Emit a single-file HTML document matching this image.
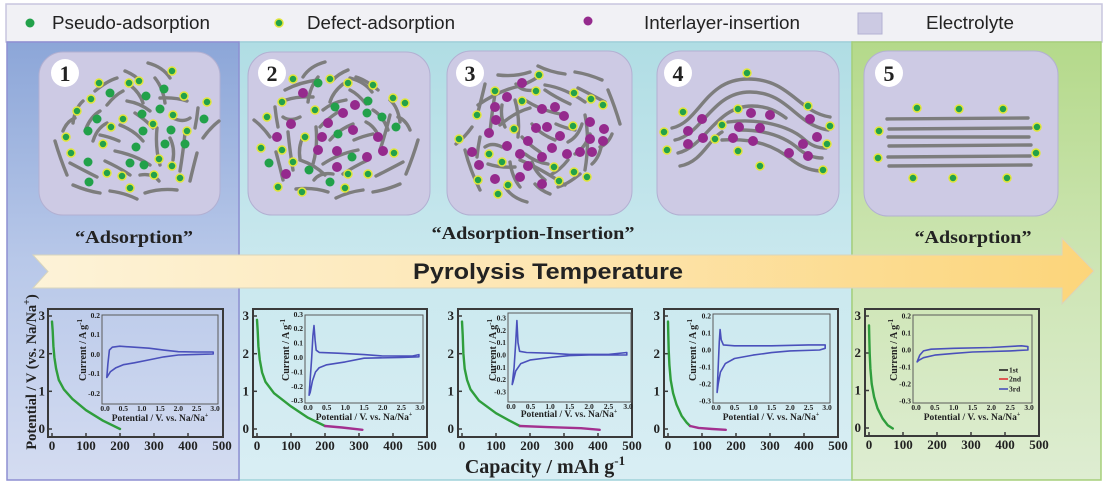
<!DOCTYPE html>
<html><head><meta charset="utf-8"><style>
html,body{margin:0;padding:0;background:#fff;}
svg{display:block;}
.g{fill:#22a14a;}
.d{fill:#22a14a;stroke:#e2e63a;stroke-width:1.5;}
.m{fill:#952a8d;}
.cv path,.cv line{stroke:#7d7d7d;stroke-width:3.4;fill:none;stroke-linecap:round;}
.sf{font-family:"Liberation Serif",serif;font-weight:bold;fill:#222;}
.ss{font-family:"Liberation Sans",sans-serif;fill:#222;}
.ax{fill:none;stroke:#3a3a3a;stroke-width:2;}
.tk{stroke:#3a3a3a;stroke-width:1.5;}
.ib{fill:none;stroke:#5a5a5a;stroke-width:1;}
.cvl{fill:none;stroke:#4a50bb;stroke-width:1.6;stroke-linejoin:round;}
.gl{fill:none;stroke:#2f9e3c;stroke-width:2.4;stroke-linejoin:round;stroke-linecap:round;}
.ml{fill:none;stroke:#a3308f;stroke-width:2.4;stroke-linejoin:round;stroke-linecap:round;}
</style></head><body>
<svg width="1106" height="485" viewBox="0 0 1106 485" xmlns="http://www.w3.org/2000/svg">
<defs>
<linearGradient id="gL" x1="0" y1="0" x2="0" y2="1"><stop offset="0" stop-color="#8ca6d8"/><stop offset="0.5" stop-color="#b8c8e9"/><stop offset="1" stop-color="#d4dcf1"/></linearGradient>
<linearGradient id="gM" x1="0" y1="0" x2="0" y2="1"><stop offset="0" stop-color="#b0dde4"/><stop offset="0.5" stop-color="#c9e8ee"/><stop offset="1" stop-color="#d9eef4"/></linearGradient>
<linearGradient id="gR" x1="0" y1="0" x2="0" y2="1"><stop offset="0" stop-color="#b4d98a"/><stop offset="0.5" stop-color="#cde5b3"/><stop offset="1" stop-color="#deedd2"/></linearGradient>
<linearGradient id="gA" x1="0" y1="0" x2="1" y2="0"><stop offset="0" stop-color="#fdf3d8"/><stop offset="0.5" stop-color="#fde5b0"/><stop offset="1" stop-color="#fcd57a"/></linearGradient>
<g id="pat" class="cv">
<path d="M13 -70 Q28 -66 35 -55"/>
<path d="M-40 -42 Q-28 -52 -18 -55"/>
<path d="M-28 -28 Q-20 -38 -12 -42"/>
<path d="M-5 -48 Q5 -40 8 -30"/>
<path d="M20 -55 Q28 -45 30 -30"/>
<path d="M25 -35 Q40 -36 52 -32"/>
<path d="M-62 -10 Q-60 -25 -52 -32"/>
<path d="M-50 -2 Q-45 -16 -35 -22"/>
<path d="M-42 8 Q-38 -5 -28 -10"/>
<path d="M-35 2 Q-25 4 -16 8"/>
<path d="M-15 -8 Q0 -2 8 8"/>
<path d="M-20 18 Q0 22 15 32"/>
<path d="M-80 8 Q-75 25 -68 42"/>
<path d="M-65 30 Q-50 38 -38 44"/>
<path d="M-62 52 Q-48 58 -35 60"/>
<path d="M-25 58 Q-10 60 2 66"/>
<path d="M10 60 Q25 55 42 57"/>
<path d="M22 -5 Q20 15 25 32"/>
<path d="M50 0 Q48 20 45 38"/>
<path d="M62 20 Q58 35 55 48"/>
<path d="M63 -25 Q62 -15 60 -5"/>
<path d="M68 5 Q75 -5 84 -12"/>
<path d="M0 -20 Q12 -12 18 -5"/>
<path d="M-8 -32 Q5 -30 15 -22"/>
<path d="M-30 28 Q-15 35 -5 42"/>
<path d="M5 42 Q18 40 24 48"/>
<path d="M35 5 Q40 15 38 27"/>
<path d="M-72 -2 Q-68 -12 -60 -15"/>
<path d="M-10 -62 Q0 -58 5 -52"/>
<path d="M38 -15 Q48 -10 55 -15"/>
</g>
</defs>

<!-- legend bar -->
<rect x="6" y="4" width="1096" height="38" fill="#f1f1f5" stroke="#c8c6df" stroke-width="1.5"/>
<circle cx="30" cy="23" r="4.5" class="g"/>
<text x="52" y="29" class="ss" font-size="18" textLength="158" lengthAdjust="spacingAndGlyphs">Pseudo-adsorption</text>
<circle cx="279" cy="23" r="4" class="d"/>
<text x="307" y="29" class="ss" font-size="18" textLength="148" lengthAdjust="spacingAndGlyphs">Defect-adsorption</text>
<circle cx="588" cy="21" r="4.5" class="m"/>
<text x="644" y="29" class="ss" font-size="18" textLength="156" lengthAdjust="spacingAndGlyphs">Interlayer-insertion</text>
<rect x="858" y="13" width="24" height="21" fill="#cccae3" stroke="#b3b1d3"/>
<text x="926" y="29" class="ss" font-size="18" textLength="88" lengthAdjust="spacingAndGlyphs">Electrolyte</text>

<!-- columns -->
<rect x="239" y="42" width="613" height="438" fill="url(#gM)" stroke="#9fd2da" stroke-width="1.5"/>
<rect x="852" y="42" width="249" height="438" fill="url(#gR)" stroke="#a6cf7a" stroke-width="1.5"/>
<rect x="7" y="42" width="232" height="438" fill="url(#gL)" stroke="#8e8fd2" stroke-width="1.5"/>

<!-- scheme boxes -->
<rect x="39" y="52" width="181" height="163" rx="24" fill="#cdcae4" stroke="#b2b0d2"/>
<rect x="248" y="52" width="182" height="163" rx="24" fill="#cdcae4" stroke="#b2b0d2"/>
<rect x="447" y="51" width="185" height="164" rx="24" fill="#cdcae4" stroke="#b2b0d2"/>
<rect x="657" y="51" width="182" height="164" rx="24" fill="#cdcae4" stroke="#b2b0d2"/>
<rect x="864" y="51" width="194" height="165" rx="24" fill="#cdcae4" stroke="#b2b0d2"/>

<!-- scheme 1 -->
<use href="#pat" transform="translate(135,133)"/>
<g>
<circle class="d" cx="99" cy="83" r="4"/><circle class="d" cx="129" cy="83" r="4"/><circle class="d" cx="139" cy="81" r="4"/><circle class="d" cx="172" cy="71" r="4"/><circle class="d" cx="91" cy="99" r="4"/><circle class="d" cx="184" cy="96" r="4"/><circle class="d" cx="207" cy="102" r="4"/><circle class="d" cx="77" cy="111" r="4"/><circle class="d" cx="123" cy="119" r="4"/><circle class="d" cx="153" cy="124" r="4"/><circle class="d" cx="173" cy="115" r="4"/><circle class="d" cx="187" cy="131" r="4"/><circle class="d" cx="111" cy="127" r="4"/><circle class="d" cx="66" cy="137" r="4"/><circle class="d" cx="71" cy="153" r="4"/><circle class="d" cx="103" cy="144" r="4"/><circle class="d" cx="159" cy="159" r="4"/><circle class="d" cx="172" cy="166" r="4"/><circle class="d" cx="107" cy="173" r="4"/><circle class="d" cx="122" cy="176" r="4"/><circle class="d" cx="154" cy="175" r="4"/><circle class="d" cx="180" cy="178" r="4"/><circle class="d" cx="130" cy="188" r="4"/>
<circle class="g" cx="110" cy="93" r="4.5"/><circle class="g" cx="146" cy="96" r="4.5"/><circle class="g" cx="164" cy="89" r="4.5"/><circle class="g" cx="97" cy="119" r="4.5"/><circle class="g" cx="88" cy="131" r="4.5"/><circle class="g" cx="142" cy="114" r="4.5"/><circle class="g" cx="160" cy="109" r="4.5"/><circle class="g" cx="143" cy="131" r="4.5"/><circle class="g" cx="171" cy="130" r="4.5"/><circle class="g" cx="204" cy="119" r="4.5"/><circle class="g" cx="185" cy="144" r="4.5"/><circle class="g" cx="165" cy="144" r="4.5"/><circle class="g" cx="136" cy="147" r="4.5"/><circle class="g" cx="88" cy="162" r="4.5"/><circle class="g" cx="130" cy="163" r="4.5"/><circle class="g" cx="144" cy="165" r="4.5"/><circle class="g" cx="89" cy="182" r="4.5"/>
</g>

<!-- scheme 2 -->
<use href="#pat" transform="translate(338,132) scale(-1,1)"/>
<g class="cv"><path d="M285 90 Q300 82 318 80"/><path d="M350 78 Q365 82 372 92"/><path d="M300 160 Q315 165 325 175"/><path d="M390 115 Q385 135 380 150"/></g>
<g>
<circle class="d" cx="293" cy="79" r="4"/><circle class="d" cx="330" cy="79" r="4"/><circle class="d" cx="348" cy="83" r="4"/><circle class="d" cx="373" cy="85" r="4"/><circle class="d" cx="282" cy="102" r="4"/><circle class="d" cx="393" cy="98" r="4"/><circle class="d" cx="405" cy="103" r="4"/><circle class="d" cx="267" cy="117" r="4"/><circle class="d" cx="315" cy="110" r="4"/><circle class="d" cx="261" cy="148" r="4"/><circle class="d" cx="282" cy="150" r="4"/><circle class="d" cx="293" cy="162" r="4"/><circle class="d" cx="305" cy="137" r="4"/><circle class="d" cx="394" cy="153" r="4"/><circle class="d" cx="348" cy="174" r="4"/><circle class="d" cx="368" cy="174" r="4"/><circle class="d" cx="278" cy="187" r="4"/><circle class="d" cx="345" cy="188" r="4"/><circle class="d" cx="302" cy="192" r="4"/>
<circle class="g" cx="318" cy="83" r="4.5"/><circle class="g" cx="368" cy="101" r="4.5"/><circle class="g" cx="335" cy="107" r="4.5"/><circle class="g" cx="367" cy="113" r="4.5"/><circle class="g" cx="382" cy="117" r="4.5"/><circle class="g" cx="396" cy="127" r="4.5"/><circle class="g" cx="338" cy="134" r="4.5"/><circle class="g" cx="352" cy="157" r="4.5"/><circle class="g" cx="269" cy="163" r="4.5"/><circle class="g" cx="309" cy="170" r="4.5"/><circle class="g" cx="330" cy="182" r="4.5"/>
<circle class="m" cx="303" cy="93" r="5"/><circle class="m" cx="355" cy="105" r="5"/><circle class="m" cx="343" cy="113" r="5"/><circle class="m" cx="291" cy="124" r="5"/><circle class="m" cx="328" cy="123" r="5"/><circle class="m" cx="353" cy="130" r="5"/><circle class="m" cx="277" cy="137" r="5"/><circle class="m" cx="322" cy="137" r="5"/><circle class="m" cx="378" cy="137" r="5"/><circle class="m" cx="318" cy="150" r="5"/><circle class="m" cx="337" cy="151" r="5"/><circle class="m" cx="383" cy="151" r="5"/><circle class="m" cx="367" cy="157" r="5"/><circle class="m" cx="337" cy="167" r="5"/><circle class="m" cx="286" cy="174" r="5"/>
</g>

<!-- scheme 3 -->
<use href="#pat" transform="translate(540,132) rotate(180)"/>
<g class="cv"><path d="M478 105 Q500 90 520 86 Q535 80 540 75"/><path d="M545 85 Q565 88 585 102"/><path d="M465 150 Q470 170 480 190"/><path d="M585 115 Q590 140 585 170"/><path d="M500 125 Q515 112 530 108"/><path d="M520 160 Q540 168 565 185"/></g>
<g>
<circle class="d" cx="539" cy="75" r="4"/><circle class="d" cx="495" cy="91" r="4"/><circle class="d" cx="536" cy="91" r="4"/><circle class="d" cx="574" cy="93" r="4"/><circle class="d" cx="591" cy="99" r="4"/><circle class="d" cx="603" cy="105" r="4"/><circle class="d" cx="477" cy="115" r="4"/><circle class="d" cx="522" cy="101" r="4"/><circle class="d" cx="514" cy="129" r="4"/><circle class="d" cx="573" cy="126" r="4"/><circle class="d" cx="459" cy="139" r="4"/><circle class="d" cx="489" cy="154" r="4"/><circle class="d" cx="502" cy="162" r="4"/><circle class="d" cx="554" cy="167" r="4"/><circle class="d" cx="574" cy="172" r="4"/><circle class="d" cx="587" cy="177" r="4"/><circle class="d" cx="478" cy="180" r="4"/><circle class="d" cx="508" cy="185" r="4"/><circle class="d" cx="559" cy="181" r="4"/><circle class="d" cx="498" cy="194" r="4"/>
<circle class="m" cx="522" cy="83" r="5"/><circle class="m" cx="507" cy="97" r="5"/><circle class="m" cx="495" cy="107" r="5"/><circle class="m" cx="542" cy="109" r="5"/><circle class="m" cx="555" cy="107" r="5"/><circle class="m" cx="564" cy="116" r="5"/><circle class="m" cx="496" cy="120" r="5"/><circle class="m" cx="489" cy="133" r="5"/><circle class="m" cx="536" cy="128" r="5"/><circle class="m" cx="547" cy="127" r="5"/><circle class="m" cx="560" cy="136" r="5"/><circle class="m" cx="590" cy="122" r="5"/><circle class="m" cx="604" cy="129" r="5"/><circle class="m" cx="590" cy="139" r="5"/><circle class="m" cx="603" cy="141" r="5"/><circle class="m" cx="472" cy="152" r="5"/><circle class="m" cx="507" cy="146" r="5"/><circle class="m" cx="528" cy="141" r="5"/><circle class="m" cx="552" cy="148" r="5"/><circle class="m" cx="520" cy="154" r="5"/><circle class="m" cx="542" cy="157" r="5"/><circle class="m" cx="567" cy="154" r="5"/><circle class="m" cx="580" cy="152" r="5"/><circle class="m" cx="592" cy="152" r="5"/><circle class="m" cx="479" cy="165" r="5"/><circle class="m" cx="528" cy="166" r="5"/><circle class="m" cx="495" cy="179" r="5"/><circle class="m" cx="520" cy="177" r="5"/><circle class="m" cx="542" cy="184" r="5"/>
</g>

<!-- scheme 4 -->
<g class="cv">
<path d="M672 128 C700 122 705 79 748 79 C790 79 798 112 830 117"/>
<path d="M675 140 C703 134 712 92 750 92 C788 92 796 125 828 130"/>
<path d="M678 153 C706 146 716 106 752 106 C768 106 778 112 786 118"/>
<path d="M680 166 C702 162 708 140 722 132"/>
<path d="M728 122 C760 118 790 126 805 140 C812 146 818 148 826 148"/>
<path d="M722 140 C755 138 775 146 792 160 C800 166 808 170 820 171"/>
<path d="M740 130 C765 130 785 136 800 150 C808 156 815 158 822 158"/>
</g>
<g>
<circle class="d" cx="747" cy="73" r="4"/><circle class="d" cx="683" cy="112" r="4"/><circle class="d" cx="664" cy="132" r="4"/><circle class="d" cx="667" cy="150" r="4"/><circle class="d" cx="722" cy="125" r="4"/><circle class="d" cx="715" cy="139" r="4"/><circle class="d" cx="738" cy="109" r="4"/><circle class="d" cx="738" cy="151" r="4"/><circle class="d" cx="760" cy="166" r="4"/><circle class="d" cx="808" cy="106" r="4"/><circle class="d" cx="830" cy="126" r="4"/><circle class="d" cx="827" cy="144" r="4"/><circle class="d" cx="823" cy="170" r="4"/>
<circle class="m" cx="702" cy="119" r="5"/><circle class="m" cx="688" cy="131" r="5"/><circle class="m" cx="703" cy="138" r="5"/><circle class="m" cx="688" cy="144" r="5"/><circle class="m" cx="751" cy="113" r="5"/><circle class="m" cx="770" cy="115" r="5"/><circle class="m" cx="739" cy="127" r="5"/><circle class="m" cx="760" cy="128" r="5"/><circle class="m" cx="733" cy="138" r="5"/><circle class="m" cx="753" cy="141" r="5"/><circle class="m" cx="810" cy="119" r="5"/><circle class="m" cx="817" cy="137" r="5"/><circle class="m" cx="803" cy="144" r="5"/><circle class="m" cx="789" cy="153" r="5"/><circle class="m" cx="808" cy="156" r="5"/>
</g>

<!-- scheme 5 -->
<g class="cv">
<line x1="887" y1="119" x2="1028" y2="118"/>
<line x1="889" y1="129" x2="1031" y2="128"/>
<line x1="888" y1="137" x2="1029" y2="137"/>
<line x1="889" y1="146" x2="1031" y2="145"/>
<line x1="888" y1="157" x2="1030" y2="156"/>
<line x1="889" y1="166" x2="1031" y2="165"/>
</g>
<g>
<circle class="d" cx="917" cy="108" r="4"/><circle class="d" cx="959" cy="109" r="4"/><circle class="d" cx="1003" cy="109" r="4"/><circle class="d" cx="879" cy="131" r="4"/><circle class="d" cx="1037" cy="127" r="4"/><circle class="d" cx="878" cy="158" r="4"/><circle class="d" cx="1036" cy="153" r="4"/><circle class="d" cx="913" cy="178" r="4"/><circle class="d" cx="953" cy="178" r="4"/><circle class="d" cx="1007" cy="178" r="4"/>
</g>

<!-- number circles -->
<g>
<circle cx="65" cy="73" r="14" fill="#fff"/><text x="65" y="81" class="sf" font-size="22" text-anchor="middle" fill="#111">1</text>
<circle cx="272" cy="73" r="14" fill="#fff"/><text x="272" y="81" class="sf" font-size="22" text-anchor="middle" fill="#111">2</text>
<circle cx="470" cy="73" r="14" fill="#fff"/><text x="470" y="81" class="sf" font-size="22" text-anchor="middle" fill="#111">3</text>
<circle cx="678" cy="73" r="14" fill="#fff"/><text x="678" y="81" class="sf" font-size="22" text-anchor="middle" fill="#111">4</text>
<circle cx="889" cy="73" r="14" fill="#fff"/><text x="889" y="81" class="sf" font-size="22" text-anchor="middle" fill="#111">5</text>
</g>

<!-- labels -->
<text x="134" y="243" class="sf" font-size="18" text-anchor="middle" textLength="118" lengthAdjust="spacingAndGlyphs">“Adsorption”</text>
<text x="533" y="239" class="sf" font-size="18" text-anchor="middle" textLength="203" lengthAdjust="spacingAndGlyphs">“Adsorption-Insertion”</text>
<text x="973" y="243" class="sf" font-size="18" text-anchor="middle" textLength="117" lengthAdjust="spacingAndGlyphs">“Adsorption”</text>

<!-- arrow -->
<polygon points="33,255 1062,255 1062,238 1094,271 1062,304 1062,288 33,288 48,271.5" fill="url(#gA)" stroke="#d8d5bd" stroke-width="1"/>
<text x="548" y="279" class="ss" font-size="22" font-weight="bold" text-anchor="middle" textLength="270" lengthAdjust="spacingAndGlyphs" fill="#111">Pyrolysis Temperature</text>

<!-- big axis labels -->
<text transform="translate(36,372) rotate(-90)" class="sf" font-size="14.5" text-anchor="middle">Potential / V (vs. Na/Na<tspan dy="-6" font-size="10">+</tspan><tspan dy="6">)</tspan></text>
<text x="545" y="473" class="sf" font-size="20" text-anchor="middle">Capacity / mAh g<tspan dy="-8" font-size="13">-1</tspan></text>

<!-- Chart 1 -->
<g transform="translate(48,0)">
<rect x="0" y="309" width="175" height="128" class="ax"/>
<g class="tk"><line x1="0" y1="429" x2="4" y2="429"/><line x1="0" y1="391.3" x2="4" y2="391.3"/><line x1="0" y1="353.7" x2="4" y2="353.7"/><line x1="0" y1="316" x2="4" y2="316"/>
<line x1="4" y1="437" x2="4" y2="433"/><line x1="38" y1="437" x2="38" y2="433"/><line x1="72" y1="437" x2="72" y2="433"/><line x1="106" y1="437" x2="106" y2="433"/><line x1="140" y1="437" x2="140" y2="433"/></g>
<g class="sf" font-size="13" text-anchor="end"><text x="-3" y="433">0</text><text x="-3" y="395.5">1</text><text x="-3" y="358">2</text><text x="-3" y="320">3</text></g>
<g class="sf" font-size="13" text-anchor="middle"><text x="4" y="450">0</text><text x="38" y="450">100</text><text x="72" y="450">200</text><text x="106" y="450">300</text><text x="140" y="450">400</text><text x="174" y="450">500</text></g>
<polyline class="gl" points="4,321.6 4.7,331 5.4,346.1 6.4,357.4 8.1,368.7 10.8,380 15.9,389.4 24.4,398.9 38,410.2 55,420.7 72,429"/>
</g>
<rect x="102" y="315" width="116" height="89" class="ib"/>
<g class="sf" font-size="7.5" text-anchor="middle"><text x="105" y="411">0.0</text><text x="123.3" y="411">0.5</text><text x="141.7" y="411">1.0</text><text x="160" y="411">1.5</text><text x="178.3" y="411">2.0</text><text x="196.7" y="411">2.5</text><text x="215" y="411">3.0</text></g>
<g class="sf" font-size="7.5" text-anchor="end"><text x="100" y="318">0.2</text><text x="100" y="337">0.1</text><text x="100" y="357">0.0</text><text x="100" y="376">-0.1</text><text x="100" y="396">-0.2</text></g>
<text transform="translate(86,350) rotate(-90)" class="sf" font-size="10" text-anchor="middle">Current / A g<tspan dy="-4" font-size="7">-1</tspan></text>
<text x="160" y="421" class="sf" font-size="9.5" text-anchor="middle">Potential / V. vs. Na/Na<tspan dy="-4" font-size="6">+</tspan></text>
<path class="cvl" d="M106.8,377.4 L107.9,363.8 L109.4,350.1 L112.3,347.2 L119.7,346.2 L134.3,347.2 L149,348.2 L163.7,350.1 L178.3,351.7 L196.7,352 L213.2,352 L213.2,354 L196.7,354.4 L178.3,355 L163.7,356.9 L149,359.9 L134.3,362.8 L123.3,364.7 L116,367.7 L110.5,371.6 Z"/>

<!-- Chart 2 -->
<g transform="translate(253,0)">
<rect x="0" y="309" width="174" height="128" class="ax"/>
<g class="tk"><line x1="0" y1="429" x2="4" y2="429"/><line x1="0" y1="391.3" x2="4" y2="391.3"/><line x1="0" y1="353.7" x2="4" y2="353.7"/><line x1="0" y1="316" x2="4" y2="316"/>
<line x1="4" y1="437" x2="4" y2="433"/><line x1="38" y1="437" x2="38" y2="433"/><line x1="72" y1="437" x2="72" y2="433"/><line x1="106" y1="437" x2="106" y2="433"/><line x1="140" y1="437" x2="140" y2="433"/></g>
<g class="sf" font-size="13" text-anchor="end"><text x="-4" y="433">0</text><text x="-4" y="395.5">1</text><text x="-4" y="358">2</text><text x="-4" y="320">3</text></g>
<g class="sf" font-size="13" text-anchor="middle"><text x="4" y="450">0</text><text x="38" y="450">100</text><text x="72" y="450">200</text><text x="106" y="450">300</text><text x="140" y="450">400</text><text x="174" y="450">500</text></g>
<polyline class="gl" points="4,319.8 4.7,331 5.4,346.1 6.7,359.3 9.1,372.5 12.5,381.9 21,393.2 38,406.4 55,417.7 72,426"/>
<polyline class="ml" points="72,426 89,427.5 109.4,429.8"/>
</g>
<rect x="305" y="315" width="118" height="88" class="ib"/>
<g class="sf" font-size="7.5" text-anchor="middle"><text x="308" y="410">0.0</text><text x="326.7" y="410">0.5</text><text x="345.3" y="410">1.0</text><text x="364" y="410">1.5</text><text x="382.7" y="410">2.0</text><text x="401.3" y="410">2.5</text><text x="420" y="410">3.0</text></g>
<g class="sf" font-size="7.5" text-anchor="end"><text x="303" y="317">0.3</text><text x="303" y="331">0.2</text><text x="303" y="345.5">0.1</text><text x="303" y="360">0.0</text><text x="303" y="374.5">-0.1</text><text x="303" y="389">-0.2</text><text x="303" y="403">-0.3</text></g>
<text transform="translate(289,350) rotate(-90)" class="sf" font-size="10" text-anchor="middle">Current / A g<tspan dy="-4" font-size="7">-1</tspan></text>
<text x="364" y="420" class="sf" font-size="9.5" text-anchor="middle">Potential / V. vs. Na/Na<tspan dy="-4" font-size="6">+</tspan></text>
<path class="cvl" d="M309.1,395.2 L310.2,379.3 L311.7,357.5 L312.9,335.8 L314,325.6 L315.1,340.1 L316.2,350.2 L319.2,352.4 L337.9,353.2 L364,354.6 L382.7,356 L412.5,356 L418.9,354.6 L418.9,356.8 L401.3,357.5 L364,358.2 L345.3,361.9 L326.7,364.8 L319.2,367.7 L315.5,372 L312.5,380.7 L310.2,392.3 Z"/>

<!-- Chart 3 -->
<g transform="translate(458,0)">
<rect x="0" y="309" width="174" height="128" class="ax"/>
<g class="tk"><line x1="0" y1="429" x2="4" y2="429"/><line x1="0" y1="391.3" x2="4" y2="391.3"/><line x1="0" y1="353.7" x2="4" y2="353.7"/><line x1="0" y1="316" x2="4" y2="316"/>
<line x1="4" y1="437" x2="4" y2="433"/><line x1="38" y1="437" x2="38" y2="433"/><line x1="72" y1="437" x2="72" y2="433"/><line x1="106" y1="437" x2="106" y2="433"/><line x1="140" y1="437" x2="140" y2="433"/></g>
<g class="sf" font-size="13" text-anchor="end"><text x="-4" y="433">0</text><text x="-4" y="395.5">1</text><text x="-4" y="358">2</text><text x="-4" y="320">3</text></g>
<g class="sf" font-size="13" text-anchor="middle"><text x="4" y="450">0</text><text x="38" y="450">100</text><text x="72" y="450">200</text><text x="106" y="450">300</text><text x="140" y="450">400</text><text x="174" y="450">500</text></g>
<polyline class="gl" points="4,321.6 4.7,334.8 5.4,353.7 6.7,368.7 9.1,380 12.5,389.4 21,400.7 38,413.2 51.6,420.7 61.8,426"/>
<polyline class="ml" points="61.8,426 89,427.1 123,428.2 141.7,429.8"/>
</g>
<rect x="508" y="313" width="123" height="89" class="ib"/>
<g class="sf" font-size="7.5" text-anchor="middle"><text x="511" y="409">0.0</text><text x="530.5" y="409">0.5</text><text x="550" y="409">1.0</text><text x="569.5" y="409">1.5</text><text x="589" y="409">2.0</text><text x="608.5" y="409">2.5</text><text x="628" y="409">3.0</text></g>
<g class="sf" font-size="7.5" text-anchor="end"><text x="506" y="320.6">0.3</text><text x="506" y="332.9">0.2</text><text x="506" y="345.2">0.1</text><text x="506" y="357.5">0.0</text><text x="506" y="369.8">-0.1</text><text x="506" y="382.1">-0.2</text><text x="506" y="394.4">-0.3</text></g>
<text transform="translate(496,350) rotate(-90)" class="sf" font-size="10" text-anchor="middle">Current / A g<tspan dy="-4" font-size="7">-1</tspan></text>
<text x="569" y="417" class="sf" font-size="9.5" text-anchor="middle">Potential / V. vs. Na/Na<tspan dy="-4" font-size="6">+</tspan></text>
<path class="cvl" d="M512.2,384.5 L514.1,367.3 L515.7,342.7 L516.9,320.6 L518,342.7 L519.6,351.3 L526.6,352.5 L550,353.2 L569.5,354.4 L608.5,354.4 L626.8,352.5 L626.8,355 L589,355 L569.5,355.6 L550,357.5 L530.5,359.9 L520.8,363.6 L515.7,371 L513,382 Z"/>

<!-- Chart 4 -->
<g transform="translate(664,0)">
<rect x="0" y="309" width="174" height="128" class="ax"/>
<g class="tk"><line x1="0" y1="429" x2="4" y2="429"/><line x1="0" y1="391.3" x2="4" y2="391.3"/><line x1="0" y1="353.7" x2="4" y2="353.7"/><line x1="0" y1="316" x2="4" y2="316"/>
<line x1="4" y1="437" x2="4" y2="433"/><line x1="38" y1="437" x2="38" y2="433"/><line x1="72" y1="437" x2="72" y2="433"/><line x1="106" y1="437" x2="106" y2="433"/><line x1="140" y1="437" x2="140" y2="433"/></g>
<g class="sf" font-size="13" text-anchor="end"><text x="-4" y="433">0</text><text x="-4" y="395.5">1</text><text x="-4" y="358">2</text><text x="-4" y="320">3</text></g>
<g class="sf" font-size="13" text-anchor="middle"><text x="4" y="450">0</text><text x="38" y="450">100</text><text x="72" y="450">200</text><text x="106" y="450">300</text><text x="140" y="450">400</text><text x="174" y="450">500</text></g>
<polyline class="gl" points="4,321.6 4.3,334.8 4.7,349.9 5.4,365 6.7,380 9.1,393.2 12.5,404.5 17.6,415.8 22.7,422.6 26.1,426"/>
<polyline class="ml" points="26.1,426 34.6,427.9 48.2,429 61.8,429.8"/>
</g>
<rect x="713" y="314" width="117" height="89" class="ib"/>
<g class="sf" font-size="7.5" text-anchor="middle"><text x="716" y="410">0.0</text><text x="734.5" y="410">0.5</text><text x="753" y="410">1.0</text><text x="771.5" y="410">1.5</text><text x="790" y="410">2.0</text><text x="808.5" y="410">2.5</text><text x="827" y="410">3.0</text></g>
<g class="sf" font-size="7.5" text-anchor="end"><text x="711" y="318.5">0.2</text><text x="711" y="335.5">0.1</text><text x="711" y="352.5">0.0</text><text x="711" y="369.5">-0.1</text><text x="711" y="386.5">-0.2</text><text x="711" y="403.5">-0.3</text></g>
<text transform="translate(696,350) rotate(-90)" class="sf" font-size="10" text-anchor="middle">Current / A g<tspan dy="-4" font-size="7">-1</tspan></text>
<text x="771" y="420" class="sf" font-size="9.5" text-anchor="middle">Potential / V. vs. Na/Na<tspan dy="-4" font-size="6">+</tspan></text>
<path class="cvl" d="M717.1,392.5 L718.2,367 L719.3,341.5 L720.1,329.6 L721.2,339.8 L723.4,344.9 L734.5,345.8 L771.5,345.8 L808.5,344.9 L825.2,344.9 L825.2,348.3 L819.6,350 L790,350.9 L771.5,352.6 L753,355.1 L734.5,358.5 L725.3,363.6 L720.4,372.1 L718.2,384 Z"/>

<!-- Chart 5 -->
<g transform="translate(865,0)">
<rect x="0" y="309" width="174" height="127" class="ax"/>
<g class="tk"><line x1="0" y1="428" x2="4" y2="428"/><line x1="0" y1="390.5" x2="4" y2="390.5"/><line x1="0" y1="353" x2="4" y2="353"/><line x1="0" y1="316" x2="4" y2="316"/>
<line x1="4" y1="436" x2="4" y2="432"/><line x1="38" y1="436" x2="38" y2="432"/><line x1="72" y1="436" x2="72" y2="432"/><line x1="106" y1="436" x2="106" y2="432"/><line x1="140" y1="436" x2="140" y2="432"/></g>
<g class="sf" font-size="13" text-anchor="end"><text x="-4" y="432">0</text><text x="-4" y="394.5">1</text><text x="-4" y="357">2</text><text x="-4" y="320">3</text></g>
<g class="sf" font-size="13" text-anchor="middle"><text x="4" y="449">0</text><text x="38" y="449">100</text><text x="72" y="449">200</text><text x="106" y="449">300</text><text x="140" y="449">400</text><text x="174" y="449">500</text></g>
<polyline class="gl" points="4,325.4 4.3,338.6 4.7,353.7 5.4,368.7 6.7,383.8 9.1,397 12.5,408.3 17.6,418.5 22.7,425.2 27.8,428.5"/>
</g>
<rect x="913" y="315" width="119" height="88" class="ib"/>
<g class="sf" font-size="7.5" text-anchor="middle"><text x="916" y="410">0.0</text><text x="934.8" y="410">0.5</text><text x="953.7" y="410">1.0</text><text x="972.5" y="410">1.5</text><text x="991.3" y="410">2.0</text><text x="1010.2" y="410">2.5</text><text x="1029" y="410">3.0</text></g>
<g class="sf" font-size="7.5" text-anchor="end"><text x="911" y="318.5">0.2</text><text x="911" y="335.5">0.1</text><text x="911" y="352.5">0.0</text><text x="911" y="369.5">-0.1</text><text x="911" y="386.5">-0.2</text><text x="911" y="403.5">-0.3</text></g>
<text transform="translate(897,350) rotate(-90)" class="sf" font-size="10" text-anchor="middle">Current / A g<tspan dy="-4" font-size="7">-1</tspan></text>
<text x="972" y="420" class="sf" font-size="9.5" text-anchor="middle">Potential / V. vs. Na/Na<tspan dy="-4" font-size="6">+</tspan></text>
<path class="cvl" d="M917.1,361.9 L919.8,355.1 L923.5,350.9 L931.1,349.2 L953.7,348.3 L991.3,347.5 L1021.5,345.8 L1027.9,346.6 L1027.9,350 L1010.2,350.9 L972.5,352 L953.7,353.4 L934.8,355.1 L923.5,357.7 L919,360.2 Z"/>
<g stroke-width="1.6"><line x1="999" y1="370" x2="1008" y2="370" stroke="#222"/><line x1="999" y1="379" x2="1008" y2="379" stroke="#e03535"/><line x1="999" y1="389" x2="1008" y2="389" stroke="#4a50bb"/></g>
<g class="sf" font-size="7.5"><text x="1009" y="372.5">1st</text><text x="1009" y="381.5">2nd</text><text x="1009" y="391.5">3rd</text></g>
</svg>
</body></html>
